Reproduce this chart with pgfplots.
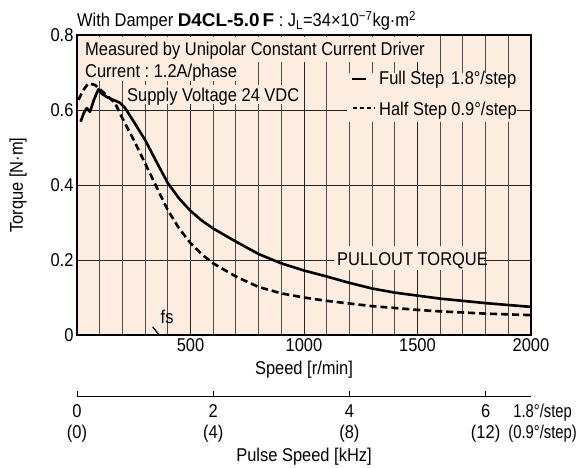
\documentclass[border=0pt]{standalone}
\usepackage{pgfplots}
\pgfplotsset{compat=1.18}
\usepackage{fontspec}
\setmainfont{Liberation Sans}[FakeStretch=0.89]
\newfontfamily\tb{Liberation Sans}[FakeStretch=1.02]
\newfontfamily\nr{Liberation Sans}[FakeStretch=0.80]
\definecolor{bgc}{RGB}{253,237,225}
\newcommand{\fs}{\fontsize{18.5}{21}\selectfont}
\frenchspacing
\begin{document}
\begin{tikzpicture}[font=\fs]
\useasboundingbox (0pt,0pt) rectangle (578pt,467pt);
\begin{axis}[
 at={(77pt,132pt)}, anchor=south west, scale only axis, width=454pt, height=300pt,
 xmin=0,xmax=2000,ymin=0,ymax=0.8,
 axis background/.style={fill=bgc},
 xtick={500,1000,1500,2000}, xticklabels={500,1000,1500,2000},
 minor xtick={100,200,...,1900},
 ytick={0,0.2,0.4,0.6,0.8}, yticklabels={0,0.2,0.4,0.6,0.8},
 major tick length=0pt, minor tick length=0pt,
 xmajorgrids, xminorgrids, ymajorgrids,
 major grid style={black!85, line width=0.9pt},
 minor grid style={black!70, line width=0.9pt},
 axis line style={line width=1.2pt},
 tick label style={font=\fs},
 /pgf/number format/assume math mode=true,
 xlabel={Speed [r/min]}, ylabel={Torque [N·m]},
 label style={font=\fs},
 xlabel style={at={(axis description cs:0.5,-0.1167)}, anchor=center},
 ylabel style={at={(axis description cs:-0.13,0.5)}, anchor=center},
]
\addplot[black, line width=2.6pt, line join=round] coordinates {
(16,0.569) (30,0.592) (43,0.605) (57,0.595) (75,0.628) (94,0.655) (110,0.643) (131,0.635) (160,0.627) (190,0.619) (212,0.605) (250,0.569) (300,0.52) (350,0.462) (400,0.405) (450,0.364) (500,0.331) (550,0.305) (600,0.284) (700,0.249) (800,0.216) (900,0.191) (1000,0.172) (1100,0.156) (1200,0.139) (1300,0.124) (1400,0.113) (1500,0.105) (1600,0.097) (1700,0.091) (1800,0.085) (1900,0.080) (2000,0.075)};
\addplot[black, line width=2.6pt, dash pattern=on 7pt off 4pt] coordinates {
(6,0.627) (17,0.64) (28,0.653) (50,0.671) (79,0.667) (120,0.645) (168,0.618) (200,0.578) (250,0.52) (300,0.458) (350,0.395) (400,0.333) (450,0.284) (500,0.245) (550,0.215) (600,0.191) (700,0.156) (800,0.128) (900,0.111) (1000,0.100) (1100,0.091) (1200,0.084) (1300,0.077) (1400,0.072) (1500,0.067) (1600,0.063) (1700,0.060) (1800,0.057) (1900,0.055) (2000,0.053)};
\draw[line width=1.2pt] (axis cs:333,0.022) -- (axis cs:362,0);
\node at (axis cs:397,0.047) {fs};
\end{axis}
\begin{axis}[
 at={(77pt,71pt)}, anchor=south west, scale only axis, width=454pt, height=20pt,
 xmin=0, xmax=6.6667, ymin=0, ymax=1,
 axis x line=bottom, axis y line=none,
 x axis line style={-, line width=1pt},
 xtick={0,2,4,6}, xticklabels={{0\\(0)},{2\\(4)},{4\\(8)},{6\\(12)}},
 xticklabel style={align=center, font=\fs, yshift=-5pt},
 tick align=inside, major tick length=5pt,
 tick style={line width=1pt, black},
]
\end{axis}
\node[align=center, font=\fs\nr, anchor=east, inner sep=0] at (577pt,44pt) {1.8°/step\\(0.9°/step)};
\node at (304pt,10pt) {Pulse Speed [kHz]};
\node[anchor=base west, inner sep=0] at (77pt,440pt) {With Damper {\tb\bfseries D4CL-5.0\,F} : J\textsubscript{L}=34×10\textsuperscript{−7}kg·m\textsuperscript{2}};
% text boxes
\fill[bgc] (79pt,430pt) rectangle (428pt,405pt);
\node[anchor=base west, inner sep=0] at (85pt,411pt) {Measured by Unipolar Constant Current Driver};
\fill[bgc] (79pt,405pt) rectangle (237pt,385.5pt);
\node[anchor=base west, inner sep=0] at (85pt,389pt) {Current : 1.2A/phase};
\fill[bgc] (124pt,382pt) rectangle (299pt,363pt);
\node[anchor=base west, inner sep=0] at (127pt,366pt) {Supply Voltage 24 VDC};
\fill[bgc] (347pt,394pt) rectangle (517pt,345pt);
\draw[line width=1.8pt] (352pt,387.7pt) -- (366pt,387.7pt);
\node[anchor=base west, inner sep=0] at (379pt,382pt) {\makebox[137pt][l]{Full Step\hfill 1.8°/step}};
\draw[line width=1.8pt, dash pattern=on 4pt off 3pt] (353pt,359pt) -- (375pt,359pt);
\node[anchor=base west, inner sep=0] at (379pt,352pt) {Half Step 0.9°/step};
\fill[bgc] (334pt,221pt) rectangle (484pt,197pt);
\node[anchor=base west, inner sep=0] at (337pt,202pt) {PULLOUT TORQUE};
\end{tikzpicture}
\end{document}
